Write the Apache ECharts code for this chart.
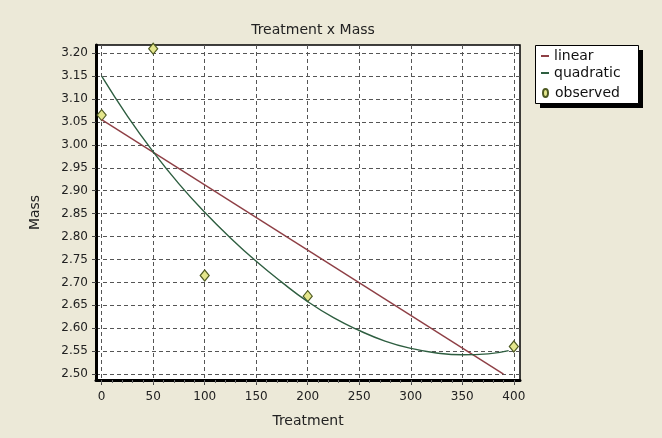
<!DOCTYPE html>
<html>
<head>
<meta charset="utf-8">
<script src="https://cdn.jsdelivr.net/npm/echarts@6/dist/echarts.min.js"></script>
<style>
  html, body { margin: 0; padding: 0; background: #ECE9D8; }
  #chart { width: 662px; height: 438px; }
</style>
</head>
<body>
<div id="chart"></div>
<script>
// values
const xTicks = [0, 50, 100, 150, 200, 250, 300, 350, 400]
const yTicks = [2.50, 2.55, 2.60, 2.65, 2.70, 2.75, 2.80, 2.85, 2.90, 2.95, 3.00, 3.05, 3.10, 3.15, 3.20]

const observedX = [0, 50, 100, 200, 400]
const observedY = [3.065, 3.21, 2.715, 2.67, 2.56]

const linearX = [0, 390]
const linearY = [3.055, 2.50]

const quadX = [0, 25, 50, 75, 100, 125, 150, 175, 200, 225, 250, 275, 300, 325, 350, 375, 395]
const quadY = [3.150, 3.063, 2.985, 2.915, 2.853, 2.797, 2.746, 2.700, 2.658, 2.623, 2.595, 2.572, 2.556, 2.546, 2.542, 2.544, 2.551]

// minor ticks every 10 on the treatment axis
const minorX = []
for (let v = 0; v <= 400; v += 10) minorX.push(v)

const pairs = (xs, ys) => xs.map((x, i) => [x, ys[i]])

const font = '"DejaVu Sans", sans-serif'
const dashed = { color: '#555', width: 1, type: [4, 3] }
const linCol = '#8E3F45'
const quadCol = '#2E5E40'
const legendText = { fontFamily: font, fontSize: 14, color: '#111' }

const chart = echarts.init(document.getElementById('chart'))
chart.setOption({
  backgroundColor: '#ECE9D8',
  animation: false,
  textStyle: { fontFamily: font },
  title: {
    text: 'Treatment x Mass',
    left: 308, top: 18, textAlign: 'center',
    textStyle: { fontFamily: font, fontSize: 14, fontWeight: 'normal', color: '#222' }
  },
  // legend frame with its hard drop shadow
  graphic: [
    { type: 'rect', left: 540, top: 50, z: 10, shape: { width: 103, height: 58 }, style: { fill: '#000' } },
    { type: 'rect', left: 535, top: 45, z: 11, shape: { width: 103, height: 58 }, style: { fill: '#fff', stroke: '#000', lineWidth: 1 } }
  ],
  legend: [{
    orient: 'vertical', left: 541, top: 49, padding: 0, z: 20,
    itemWidth: 8, itemHeight: 2, itemGap: 3, icon: 'rect',
    textStyle: legendText,
    data: ['linear', 'quadratic']
  }, {
    orient: 'vertical', left: 542, top: 86, padding: 0, z: 20,
    itemWidth: 5, itemHeight: 8,
    icon: 'path://M2.5,0C4,0 5,2 5,4C5,6 4,8 2.5,8C1,8 0,6 0,4C0,2 1,0 2.5,0Z',
    textStyle: Object.assign({ padding: [0, 0, 0, 2] }, legendText),
    data: ['observed']
  }],
  grid: {
    left: 96, right: 142, top: 45, bottom: 58,
    show: true, backgroundColor: '#fff', borderColor: '#000', borderWidth: 1.5
  },
  xAxis: [{
    type: 'value', min: -5.5, max: 406,
    name: 'Treatment', nameLocation: 'middle', nameGap: 34,
    nameTextStyle: { fontFamily: font, fontSize: 14, color: '#222' },
    axisLine: { show: true, onZero: false, lineStyle: { color: '#000', width: 3 } },
    axisTick: { show: true, customValues: xTicks, length: 5, lineStyle: { color: '#444' } },
    axisLabel: { customValues: xTicks, fontSize: 12, color: '#222', margin: 11 },
    splitLine: { show: true, lineStyle: dashed }
  }, {
    type: 'value', min: -5.5, max: 406, position: 'bottom',
    axisLine: { show: false },
    axisTick: { show: true, customValues: minorX, length: 3, lineStyle: { color: '#666' } },
    axisLabel: { show: false },
    splitLine: { show: false }
  }],
  yAxis: {
    type: 'value', min: 2.487, max: 3.218,
    name: 'Mass', nameLocation: 'middle', nameGap: 54,
    nameTextStyle: { fontFamily: font, fontSize: 14, color: '#222' },
    axisLine: { show: true, onZero: false, lineStyle: { color: '#000', width: 3 } },
    axisTick: { show: true, customValues: yTicks, length: 4, lineStyle: { color: '#444' } },
    axisLabel: { customValues: yTicks, fontSize: 12, color: '#222', margin: 8, formatter: v => v.toFixed(2) },
    splitLine: { show: true, lineStyle: dashed }
  },
  series: [{
    name: 'linear', type: 'line', data: pairs(linearX, linearY),
    symbol: 'none', lineStyle: { color: linCol, width: 1.4 }, itemStyle: { color: linCol }
  }, {
    name: 'quadratic', type: 'line', data: pairs(quadX, quadY), smooth: true,
    symbol: 'none', lineStyle: { color: quadCol, width: 1.4 }, itemStyle: { color: quadCol }
  }, {
    name: 'observed', type: 'scatter', data: pairs(observedX, observedY),
    symbol: 'diamond', symbolSize: [9, 11],
    itemStyle: { color: '#E4E68C', borderColor: '#4E5A22', borderWidth: 1.2, opacity: 1 }
  }]
})
</script>
</body>
</html>
